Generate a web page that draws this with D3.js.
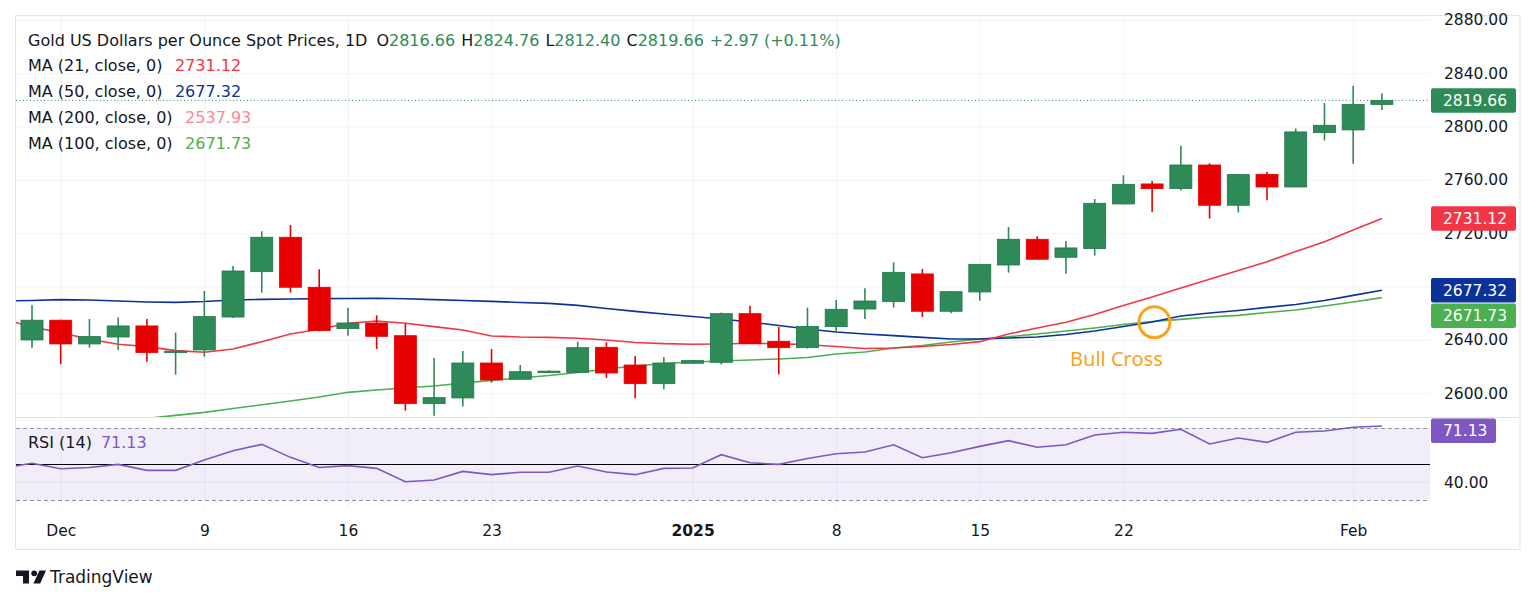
<!DOCTYPE html>
<html>
<head>
<meta charset="utf-8">
<script src="https://cdn.jsdelivr.net/npm/d3@7"></script>
<style>
  body { margin: 0; background: #fff; }
  svg { display: block; font-family: 'DejaVu Sans', sans-serif; }
</style>
</head>
<body>
<div id="chart"></div>
<script>
// daily sessions, Nov 29 2024 .. Feb 4 2025
const dates = [
  '2024-11-29', '2024-12-02', '2024-12-03', '2024-12-04', '2024-12-05', '2024-12-06',
  '2024-12-09', '2024-12-10', '2024-12-11', '2024-12-12', '2024-12-13',
  '2024-12-16', '2024-12-17', '2024-12-18', '2024-12-19', '2024-12-20',
  '2024-12-23', '2024-12-24', '2024-12-25', '2024-12-26', '2024-12-27',
  '2024-12-30', '2024-12-31', '2025-01-01', '2025-01-02', '2025-01-03',
  '2025-01-06', '2025-01-07', '2025-01-08', '2025-01-09', '2025-01-10',
  '2025-01-13', '2025-01-14', '2025-01-15', '2025-01-16', '2025-01-17',
  '2025-01-20', '2025-01-21', '2025-01-22', '2025-01-23', '2025-01-24',
  '2025-01-27', '2025-01-28', '2025-01-29', '2025-01-30', '2025-01-31',
  '2025-02-03', '2025-02-04',
];
const open = [
  2640.0, 2654.8, 2637.0, 2642.2, 2650.5, 2630.8, 2632.5, 2657.2, 2691.2, 2717.0,
  2679.5, 2648.5, 2652.7, 2643.2, 2592.2, 2596.5, 2622.7, 2610.5, 2616.3, 2615.7,
  2634.5, 2621.2, 2607.2, 2622.5, 2623.2, 2659.7, 2639.0, 2634.2, 2650.0, 2663.2,
  2668.7, 2689.5, 2661.5, 2676.0, 2696.2, 2715.5, 2702.0, 2708.5, 2742.0, 2757.0,
  2753.5, 2771.2, 2741.0, 2764.2, 2754.7, 2795.5, 2797.5, 2816.66,
];
const high = [
  2666.2, 2655.2, 2655.7, 2657.0, 2655.7, 2645.5, 2676.7, 2695.5, 2721.5, 2726.2,
  2693.0, 2664.2, 2658.5, 2652.0, 2626.5, 2631.7, 2633.2, 2621.2, 2617.0, 2638.7,
  2638.2, 2628.0, 2627.2, 2624.8, 2660.5, 2665.7, 2649.7, 2664.2, 2670.0, 2678.7,
  2698.2, 2693.2, 2676.5, 2697.0, 2724.7, 2717.7, 2714.2, 2745.7, 2763.5, 2759.2,
  2785.7, 2772.5, 2764.5, 2766.2, 2798.5, 2817.7, 2830.7, 2824.76,
];
const low = [
  2634.2, 2621.8, 2634.2, 2632.5, 2623.7, 2613.9, 2627.4, 2656.5, 2675.5, 2675.5,
  2646.5, 2643.2, 2633.2, 2587.0, 2583.2, 2590.0, 2608.0, 2610.2, 2616.0, 2615.5,
  2611.5, 2596.2, 2603.0, 2622.2, 2621.7, 2637.0, 2614.2, 2633.5, 2645.7, 2655.7,
  2664.2, 2657.2, 2660.0, 2669.5, 2690.5, 2700.3, 2689.7, 2703.2, 2741.8, 2736.0,
  2752.0, 2731.0, 2735.5, 2744.7, 2754.5, 2789.5, 2772.2, 2812.40,
];
const close = [
  2654.8, 2637.0, 2642.5, 2650.5, 2630.5, 2631.6, 2657.5, 2691.7, 2717.0, 2679.5,
  2647.0, 2652.7, 2642.7, 2592.2, 2596.7, 2622.7, 2610.0, 2616.2, 2616.6, 2634.2,
  2615.2, 2607.2, 2622.7, 2624.5, 2659.7, 2637.2, 2634.2, 2650.2, 2663.0, 2669.2,
  2690.7, 2661.5, 2676.2, 2696.7, 2715.5, 2700.5, 2709.0, 2742.5, 2756.7, 2753.5,
  2771.2, 2741.0, 2764.0, 2754.7, 2796.0, 2801.0, 2816.69, 2819.66,
];

// indicator series start one session earlier (Nov 28), just off the left edge
const ma21 = [
  2655.7, 2649.7, 2645.5, 2640.5, 2636.8, 2635.0, 2632.0, 2630.8, 2633.2, 2638.7,
  2644.5, 2648.0, 2652.5, 2654.2, 2652.5, 2650.0, 2647.5, 2643.0, 2642.2, 2641.9,
  2641.3, 2640.0, 2638.1, 2637.2, 2636.8, 2637.0, 2637.5, 2637.2, 2636.4, 2635.1,
  2633.6, 2634.0, 2635.1, 2636.6, 2638.7, 2644.5, 2649.0, 2653.3, 2659.1, 2665.9,
  2672.2, 2679.0, 2685.5, 2692.1, 2698.7, 2706.3, 2713.7, 2722.5, 2731.12,
];
const ma50 = [
  2669.2, 2669.6, 2670.2, 2670.0, 2669.2, 2668.5, 2668.2, 2668.8, 2670.0, 2670.4,
  2670.7, 2671.0, 2671.1, 2671.3, 2670.9, 2670.2, 2669.6, 2668.9, 2668.1, 2667.4,
  2665.9, 2663.6, 2661.4, 2659.5, 2657.6, 2655.7, 2653.5, 2650.8, 2648.2, 2646.0,
  2644.5, 2643.2, 2641.9, 2640.7, 2640.7, 2641.5, 2642.2, 2644.1, 2646.7, 2650.1,
  2653.5, 2658.0, 2660.2, 2662.1, 2664.4, 2666.6, 2669.6, 2673.4, 2677.32,
];
const ma100 = [
  2570.2, 2572.5, 2574.7, 2577.0, 2579.2, 2581.1, 2583.4, 2585.7, 2588.6, 2591.4,
  2594.2, 2597.2, 2600.7, 2602.5, 2604.1, 2605.5, 2607.7, 2609.7, 2611.5, 2613.3,
  2615.6, 2618.2, 2620.5, 2622.3, 2623.5, 2624.2, 2625.0, 2625.7, 2626.8, 2629.5,
  2631.0, 2634.0, 2635.8, 2638.5, 2640.7, 2642.4, 2644.5, 2646.7, 2649.0, 2651.6,
  2653.8, 2655.4, 2657.2, 2658.4, 2660.6, 2662.5, 2665.5, 2668.5, 2671.73,
];
const rsi = [
  47.9, 50.4, 47.4, 48.1, 49.8, 46.5, 46.5, 52.2, 57.4, 60.9,
  53.7, 48.1, 49.1, 47.6, 40.2, 41.1, 45.9, 44.1, 45.4, 45.4,
  48.9, 45.6, 44.1, 47.6, 47.8, 55.2, 50.7, 49.8, 53.1, 55.7,
  56.7, 60.7, 53.5, 56.3, 59.8, 63.0, 59.3, 60.7, 66.1, 67.6,
  67.0, 69.3, 61.1, 64.4, 62.0, 67.6, 68.3, 70.4, 71.13,
];
const ma200Last = 2537.93;

const priceTicks = [2600, 2640, 2680, 2720, 2760, 2800, 2840, 2880];
const rsiTicks = [40];
const rsiBands = [70, 50, 30];
const xTickIdx = [1, 6, 11, 16, 23, 28, 33, 38, 46];
const xTickLabels = ['Dec', '9', '16', '23', '2025', '8', '15', '22', 'Feb'];
const bullCross = { idx: 39.08, price: 2653.3, label: 'Bull Cross' };

const size = { width: 1536, height: 603 };
const pane = { left: 16, right: 1430, top: 15.5, mainBottom: 417, rsiBottom: 508, frameRight: 1520, frameBottom: 549.5 };
const col = {
  up: '#2e8b57', upEdge: '#23744a', down: '#e60000',
  ma21: '#f23645', ma50: '#0c3299', ma100: '#4caf50', ma200: '#f7899c', rsi: '#7e57c2',
  text: '#131722', grid: '#f0f3fa', frame: '#e0e3eb', orange: '#f9a31c',
};

const svg = d3.select('#chart').append('svg')
  .attr('width', size.width)
  .attr('height', size.height);

const x = d3.scaleLinear().domain([-0.557, 48.675]).range([pane.left, pane.right]);
const y = d3.scaleLinear().domain([2582.2, 2883.7]).range([pane.mainBottom, pane.top - 0.5]);
const yr = d3.scaleLinear().domain([25.6, 76.1]).range([pane.rsiBottom, pane.mainBottom]);

const defs = svg.append('defs');
defs.append('clipPath').attr('id', 'clipMain').append('rect')
  .attr('x', pane.left).attr('y', pane.top)
  .attr('width', pane.right - pane.left).attr('height', pane.mainBottom - pane.top);
defs.append('clipPath').attr('id', 'clipRsi').append('rect')
  .attr('x', pane.left).attr('y', pane.mainBottom)
  .attr('width', pane.right - pane.left).attr('height', pane.rsiBottom - pane.mainBottom);

// grid
const cleanGrid = (g) => {
  g.select('.domain').remove();
  g.selectAll('text').remove();
  g.selectAll('line').attr('stroke', col.grid).attr('stroke-width', 1);
};
svg.append('g')
  .attr('transform', `translate(${pane.left},0)`)
  .call(d3.axisRight(y).tickValues(priceTicks).tickSize(pane.right - pane.left))
  .call(cleanGrid);
svg.append('g')
  .attr('transform', `translate(${pane.left},0)`)
  .call(d3.axisRight(yr).tickValues(rsiTicks).tickSize(pane.right - pane.left))
  .call(cleanGrid);
svg.append('g')
  .attr('transform', `translate(0,${pane.top})`)
  .call(d3.axisBottom(x).tickValues(xTickIdx).tickSize(pane.rsiBottom - pane.top))
  .call(cleanGrid);

// frame + pane separator
svg.append('rect')
  .attr('x', 15.5).attr('y', 15.5)
  .attr('width', pane.frameRight - 15.5).attr('height', pane.frameBottom - 15.5)
  .attr('fill', 'none').attr('stroke', col.frame);
svg.append('line')
  .attr('x1', pane.left).attr('x2', pane.frameRight)
  .attr('y1', pane.mainBottom + 0.5).attr('y2', pane.mainBottom + 0.5)
  .attr('stroke', col.frame);

// moving averages
const main = svg.append('g').attr('clip-path', 'url(#clipMain)');
const maLine = d3.line().x((d, k) => x(k - 1)).y((d) => y(d));
[[ma100, col.ma100], [ma50, col.ma50], [ma21, col.ma21]].forEach(([s, c]) => {
  main.append('path')
    .datum(s)
    .attr('d', maLine)
    .attr('fill', 'none')
    .attr('stroke', c)
    .attr('stroke-width', 1.6);
});

// candles
const candles = dates.map((d, i) => ({ i, o: open[i], h: high[i], l: low[i], c: close[i] }));
const bodyW = 22;
const cg = main.selectAll('g.candle')
  .data(candles)
  .enter()
  .append('g');
cg.append('line')
  .attr('x1', (d) => x(d.i)).attr('x2', (d) => x(d.i))
  .attr('y1', (d) => y(d.h)).attr('y2', (d) => y(d.l))
  .attr('stroke', (d) => (d.c >= d.o ? col.up : col.down))
  .attr('stroke-width', 1.6);
cg.append('rect')
  .attr('x', (d) => x(d.i) - bodyW / 2)
  .attr('width', bodyW)
  .attr('y', (d) => y(Math.max(d.o, d.c)))
  .attr('height', (d) => Math.max(1.5, Math.abs(y(d.o) - y(d.c))))
  .attr('fill', (d) => (d.c >= d.o ? col.up : col.down))
  .attr('stroke', (d) => (d.c >= d.o ? col.upEdge : col.down))
  .attr('stroke-width', 0.8);

// last price line
const last = close[close.length - 1];
svg.append('line')
  .attr('x1', pane.left).attr('x2', pane.right)
  .attr('y1', y(last)).attr('y2', y(last))
  .attr('stroke', col.up).attr('stroke-width', 1)
  .attr('stroke-dasharray', '1,2.5');

// bull cross annotation
svg.append('circle')
  .attr('cx', x(bullCross.idx)).attr('cy', y(bullCross.price))
  .attr('r', 15.5)
  .attr('fill', 'none').attr('stroke', col.orange).attr('stroke-width', 3);
svg.append('text')
  .attr('x', x(bullCross.idx) - 38).attr('y', y(bullCross.price) + 44)
  .attr('text-anchor', 'middle')
  .attr('font-family', "'Noto Sans', sans-serif")
  .attr('font-size', 20)
  .attr('fill', col.orange)
  .text(bullCross.label);

// RSI pane
const rp = svg.append('g').attr('clip-path', 'url(#clipRsi)');
rp.append('rect')
  .attr('x', pane.left).attr('width', pane.right - pane.left)
  .attr('y', yr(rsiBands[0])).attr('height', yr(rsiBands[2]) - yr(rsiBands[0]))
  .attr('fill', col.rsi).attr('fill-opacity', 0.1);
rp.selectAll('line.band')
  .data(rsiBands)
  .enter()
  .append('line')
  .attr('x1', pane.left).attr('x2', pane.right)
  .attr('y1', (d) => Math.round(yr(d)) + 0.5).attr('y2', (d) => Math.round(yr(d)) + 0.5)
  .attr('stroke', (d) => (d === 50 ? '#000' : '#8f929b'))
  .attr('stroke-width', 1)
  .attr('stroke-dasharray', (d) => (d === 50 ? null : '4,3'));
rp.append('path')
  .datum(rsi)
  .attr('d', d3.line().x((d, k) => x(k - 1)).y((d) => yr(d)))
  .attr('fill', 'none')
  .attr('stroke', col.rsi)
  .attr('stroke-width', 1.6);

// price tags on the scale
const tagH = 24.5;
const fmt = d3.format('.2f');
const last21 = ma21[ma21.length - 1];
const last50 = ma50[ma50.length - 1];
const last100 = ma100[ma100.length - 1];
const lastRsi = rsi[rsi.length - 1];
const tags = [
  { cy: y(last), v: last, bg: col.up, w: 85 },
  { cy: y(last21), v: last21, bg: col.ma21, w: 85 },
  { cy: y(last50), v: last50, bg: col.ma50, w: 85 },
  { cy: Math.max(y(last100), y(last50) + tagH + 1), v: last100, bg: col.ma100, w: 85 },
];
const rsiTag = { cy: Math.max(yr(lastRsi), pane.mainBottom + tagH / 2 + 1.5), v: lastRsi, bg: col.rsi, w: 65 };

// axes (a scale label sitting fully under a tag is dropped, as the platform does)
const styleAxis = (g) => {
  g.select('.domain').remove();
  g.selectAll('text')
    .attr('font-family', "'DejaVu Sans', sans-serif")
    .attr('font-size', 15.5)
    .attr('fill', col.text);
};
svg.append('g')
  .attr('transform', `translate(${pane.right},0)`)
  .call(d3.axisRight(y).tickValues(priceTicks).tickSize(0).tickPadding(14).tickFormat(fmt))
  .call(styleAxis)
  .selectAll('.tick')
  .filter((d) => tags.some((t) => Math.abs(t.cy - y(d)) < tagH / 2))
  .remove();
svg.append('g')
  .attr('transform', `translate(${pane.right},0)`)
  .call(d3.axisRight(yr).tickValues(rsiTicks).tickSize(0).tickPadding(14).tickFormat(fmt))
  .call(styleAxis);
svg.append('g')
  .attr('transform', `translate(0,${pane.rsiBottom})`)
  .call(d3.axisBottom(x).tickValues(xTickIdx).tickSize(0).tickPadding(17).tickFormat((d, k) => xTickLabels[k]))
  .call(styleAxis)
  .selectAll('text')
  .attr('font-weight', (d, k) => (xTickLabels[k] === '2025' ? 'bold' : null));

tags.concat([rsiTag]).forEach((t) => {
  svg.append('rect')
    .attr('x', pane.right + 1).attr('y', t.cy - tagH / 2)
    .attr('width', t.w).attr('height', tagH)
    .attr('rx', 2)
    .attr('fill', t.bg);
  svg.append('text')
    .attr('x', pane.right + 13).attr('y', t.cy)
    .attr('dy', '0.36em')
    .attr('font-size', 15.5)
    .attr('fill', '#fff')
    .text(fmt(t.v));
});

// legend
const legend = svg.append('g').attr('font-size', 16).attr('fill', col.text);
const head = legend.append('text').attr('x', 28).attr('y', 45.5);
head.append('tspan').text('Gold US Dollars per Ounce Spot Prices, 1D');
const prev = close[close.length - 2];
const chg = last - prev;
[['O', open], ['H', high], ['L', low], ['C', close]].forEach(([k, s], n) => {
  head.append('tspan').attr('dx', n === 0 ? 9 : 6).text(k);
  head.append('tspan').attr('fill', col.up).text(fmt(s[s.length - 1]));
});
head.append('tspan').attr('dx', 6).attr('fill', col.up)
  .text(`+${fmt(chg)} (+${fmt((chg / prev) * 100)}%)`);

const maRows = [
  ['MA (21, close, 0)', last21, col.ma21],
  ['MA (50, close, 0)', last50, col.ma50],
  ['MA (200, close, 0)', ma200Last, col.ma200],
  ['MA (100, close, 0)', last100, col.ma100],
];
maRows.forEach(([label, v, c], n) => {
  const t = legend.append('text').attr('x', 28).attr('y', 71.3 + n * 26);
  t.append('tspan').text(label);
  t.append('tspan').attr('dx', 12.5).attr('fill', c).text(fmt(v));
});

const rl = legend.append('text').attr('x', 28).attr('y', 447.5);
rl.append('tspan').text('RSI (14)');
rl.append('tspan').attr('dx', 9).attr('fill', col.rsi).text(fmt(lastRsi));

// TradingView mark
const logo = svg.append('g').attr('fill', col.text);
logo.append('path').attr('d', 'M16,570.5 h13 v13 h-6 v-7.5 h-7 z');
logo.append('circle').attr('cx', 34.2).attr('cy', 573.3).attr('r', 2.9);
logo.append('path').attr('d', 'M39.5,570.5 h6.5 l-5.8,13 h-6.8 z');
logo.append('text')
  .attr('x', 50).attr('y', 583)
  .attr('font-size', 17)
  .text('TradingView');
</script>
</body>
</html>
